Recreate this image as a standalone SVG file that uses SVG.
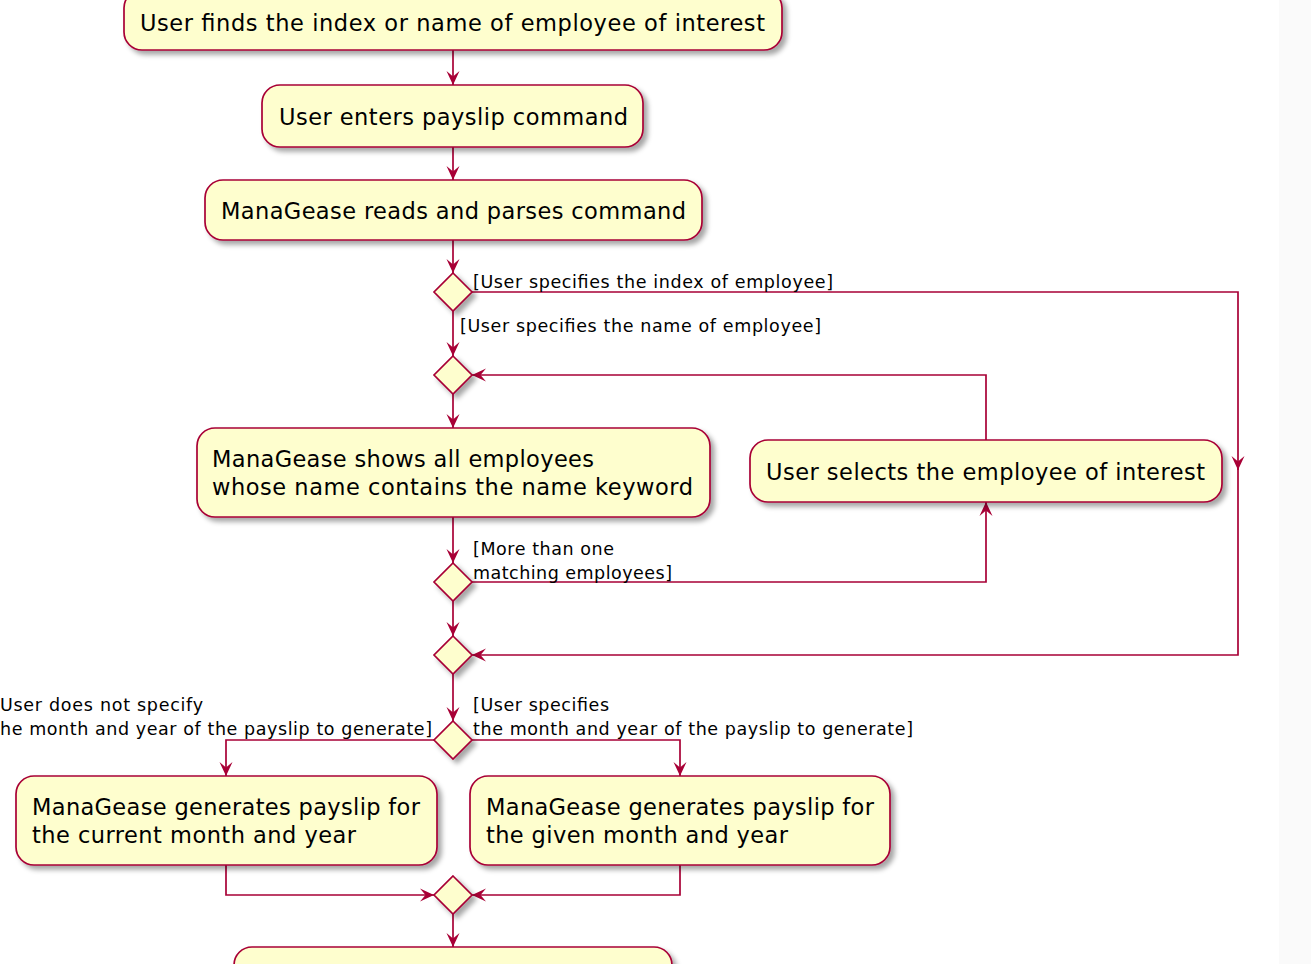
<svg xmlns="http://www.w3.org/2000/svg" width="1311" height="964" viewBox="0 0 1311 964">
<defs>
<filter id="sh" x="-10%" y="-10%" width="130%" height="140%">
<feDropShadow dx="4" dy="4" stdDeviation="2.5" flood-color="#000" flood-opacity="0.35"/>
</filter>
<marker id="ah" viewBox="-1 -8 17 16" refX="14" refY="0" markerWidth="17" markerHeight="16" markerUnits="userSpaceOnUse" orient="auto">
<path d="M0,-6.5 L14,0 L0,6.5 L5.5,0 Z" fill="#A80036"/>
</marker>
</defs>
<style>
.bg{fill:#ffffff}
.node rect{fill:#FEFECE;stroke:#A80036;stroke-width:1.7;filter:url(#sh)}
.node polygon{fill:#FEFECE;stroke:#A80036;stroke-width:1.7;filter:url(#sh)}
.nt{font-family:"DejaVu Sans","Liberation Sans",sans-serif;font-size:22.5px;fill:#000}
.lt{font-family:"DejaVu Sans","Liberation Sans",sans-serif;font-size:17.5px;fill:#000}
.conn path{fill:none;stroke:#A80036;stroke-width:1.7;marker-end:url(#ah)}
</style>
<rect class="bg" x="0" y="0" width="1311" height="964"/>
<rect x="1279" y="0" width="32" height="964" fill="#fafafa"/>

<g id="connectors" class="conn">
<path d="M453,50 L453,85"/>
<path d="M453,147 L453,180"/>
<path d="M453,240 L453,273"/>
<path d="M472,292 L1238,292 L1238,470"/>
<path d="M1238,462 L1238,655 L472,655"/>
<path d="M453,311 L453,356"/>
<path d="M986,440 L986,375 L472,375"/>
<path d="M453,394 L453,428"/>
<path d="M453,517 L453,563"/>
<path d="M472,582 L986,582 L986,502"/>
<path d="M453,601 L453,636"/>
<path d="M453,674 L453,721"/>
<path d="M434,740 L226,740 L226,776"/>
<path d="M472,740 L680,740 L680,776"/>
<path d="M226,865 L226,895 L434,895"/>
<path d="M680,865 L680,895 L472,895"/>
<path d="M453,914 L453,947"/>
</g>

<g id="labels">
<text class="lt" x="473" y="288" textLength="360" lengthAdjust="spacing">[User specifies the index of employee]</text>
<text class="lt" x="460" y="332" textLength="361" lengthAdjust="spacing">[User specifies the name of employee]</text>
<text class="lt" x="473" y="555" textLength="141" lengthAdjust="spacing">[More than one</text>
<text class="lt" x="473" y="579" textLength="199" lengthAdjust="spacing">matching employees]</text>
<text class="lt" x="0" y="711" textLength="203" lengthAdjust="spacing">User does not specify</text>
<text class="lt" x="0" y="735" textLength="432" lengthAdjust="spacing">he month and year of the payslip to generate]</text>
<text class="lt" x="473" y="711" textLength="136" lengthAdjust="spacing">[User specifies</text>
<text class="lt" x="473" y="735" textLength="440" lengthAdjust="spacing">the month and year of the payslip to generate]</text>
</g>

<g id="n1" class="node">
<rect x="124" y="-10" width="658" height="60" rx="18"/>
<text class="nt" x="140" y="31" textLength="625" lengthAdjust="spacing">User finds the index or name of employee of interest</text>
</g>
<g id="n2" class="node">
<rect x="262" y="85" width="381" height="62" rx="18"/>
<text class="nt" x="279" y="125" textLength="349" lengthAdjust="spacing">User enters payslip command</text>
</g>
<g id="n3" class="node">
<rect x="205" y="180" width="497" height="60" rx="18"/>
<text class="nt" x="221" y="219" textLength="465" lengthAdjust="spacing">ManaGease reads and parses command</text>
</g>
<g id="d1" class="node">
<polygon points="453,273 472,292 453,311 434,292"/>
</g>
<g id="d2" class="node">
<polygon points="453,356 472,375 453,394 434,375"/>
</g>
<g id="n4" class="node">
<rect x="197" y="428" width="513" height="89" rx="18"/>
<text class="nt" x="212" y="467" textLength="382" lengthAdjust="spacing">ManaGease shows all employees</text>
<text class="nt" x="212" y="495" textLength="481" lengthAdjust="spacing">whose name contains the name keyword</text>
</g>
<g id="n5" class="node">
<rect x="750" y="440" width="472" height="62" rx="18"/>
<text class="nt" x="766" y="480" textLength="439" lengthAdjust="spacing">User selects the employee of interest</text>
</g>
<g id="d3" class="node">
<polygon points="453,563 472,582 453,601 434,582"/>
</g>
<g id="d4" class="node">
<polygon points="453,636 472,655 453,674 434,655"/>
</g>
<g id="d5" class="node">
<polygon points="453,721 472,740 453,759 434,740"/>
</g>
<g id="n6" class="node">
<rect x="16" y="776" width="421" height="89" rx="18"/>
<text class="nt" x="32" y="815" textLength="388" lengthAdjust="spacing">ManaGease generates payslip for</text>
<text class="nt" x="32" y="843" textLength="324" lengthAdjust="spacing">the current month and year</text>
</g>
<g id="n7" class="node">
<rect x="470" y="776" width="420" height="89" rx="18"/>
<text class="nt" x="486" y="815" textLength="388" lengthAdjust="spacing">ManaGease generates payslip for</text>
<text class="nt" x="486" y="843" textLength="302" lengthAdjust="spacing">the given month and year</text>
</g>
<g id="d6" class="node">
<polygon points="453,876 472,895 453,914 434,895"/>
</g>
<g id="n8" class="node">
<rect x="234" y="947" width="438" height="60" rx="18"/>
</g>
</svg>
